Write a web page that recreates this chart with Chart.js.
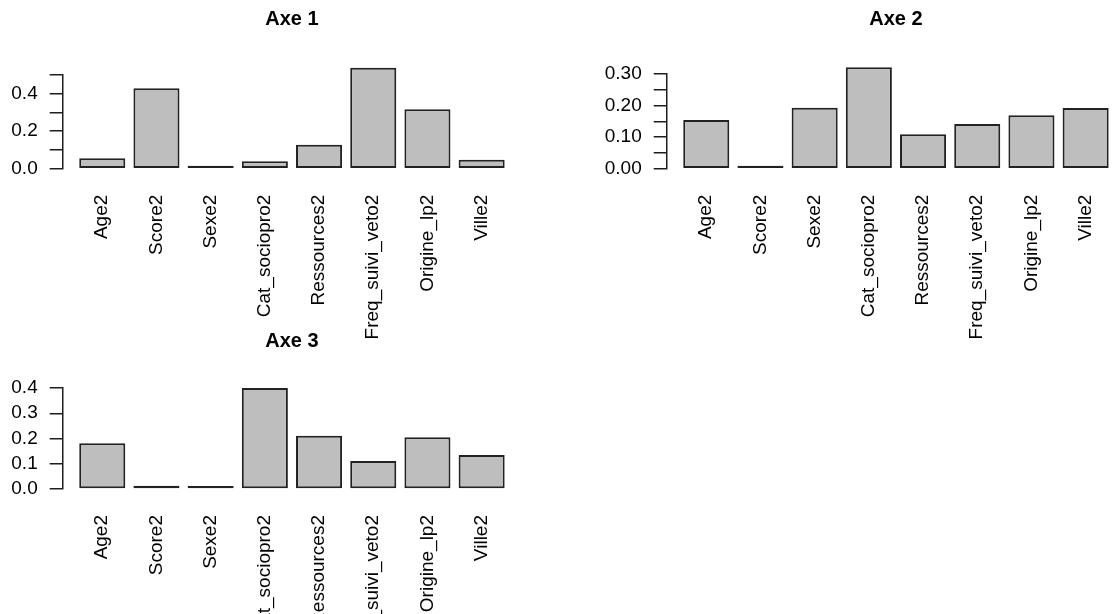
<!DOCTYPE html>
<html>
<head>
<meta charset="utf-8">
<script src="https://cdn.jsdelivr.net/npm/chart.js@4/dist/chart.umd.min.js"></script>
<style>
  html, body { margin: 0; padding: 0; background: #ffffff; width: 1112px; height: 614px; overflow: hidden; }
  canvas { position: absolute; }
  #c1 { left: 0px; top: 0px; }
  #c2 { left: 604.3px; top: 0px; }
  #c3 { left: 0px; top: 320px; }
</style>
</head>
<body>
<canvas id="c1" width="560" height="340"></canvas>
<canvas id="c2" width="560" height="340"></canvas>
<canvas id="c3" width="560" height="294"></canvas>
<script>
// ---- data ----
const categories = ['Age2', 'Score2', 'Sexe2', 'Cat_sociopro2', 'Ressources2', 'Freq_suivi_veto2', 'Origine_lp2', 'Ville2'];
const titles = ['Axe 1', 'Axe 2', 'Axe 3'];

const axe1Values = [0.055, 0.428, 0.005, 0.039, 0.128, 0.537, 0.316, 0.048];
const axe2Values = [0.154, 0.003, 0.193, 0.321, 0.109, 0.142, 0.169, 0.192];
const axe3Values = [0.181, 0.013, 0.004, 0.400, 0.211, 0.111, 0.205, 0.135];

const axe1Ticks = [0, 0.1, 0.2, 0.3, 0.4, 0.5];
const axe1TickLabels = ['0.0', '', '0.2', '', '0.4', ''];
const axe2Ticks = [0, 0.05, 0.10, 0.15, 0.20, 0.25, 0.30];
const axe2TickLabels = ['0.00', '', '0.10', '', '0.20', '', '0.30'];
const axe3Ticks = [0, 0.1, 0.2, 0.3, 0.4];
const axe3TickLabels = ['0.0', '0.1', '0.2', '0.3', '0.4'];

// ---- styling ----
Chart.defaults.font.family = "'Liberation Sans', Arial, sans-serif";
Chart.defaults.color = '#000000';

const AXIS_COLOR = '#1e1e1e';

function makePanel(id, title, values, yTicks, yLabels, titlePad, xAxisHeight) {
  const ctx = document.getElementById(id);
  return new Chart(ctx, {
    type: 'bar',
    data: {
      datasets: [{
        data: values.map((v, i) => ({ x: i, y: v })),
        backgroundColor: '#bebebe',
        borderColor: '#222222',
        borderWidth: 2,
        borderSkipped: false,
        minBarLength: 3,
        categoryPercentage: 0.85,
        barPercentage: 1.0,
        clip: false
      }]
    },
    options: {
      responsive: false,
      animation: false,
      devicePixelRatio: 1,
      layout: { padding: { left: 0, right: 38.8, top: 0, bottom: 0 } },
      plugins: {
        legend: { display: false },
        tooltip: { enabled: false },
        title: {
          display: true,
          text: title,
          fullSize: false,
          color: '#000000',
          font: { size: 20, weight: 'bold', lineHeight: 1.2 },
          padding: titlePad
        }
      },
      scales: {
        x: {
          type: 'linear',
          min: -0.73,
          max: 7.73,
          offset: false,
          grid: { display: false },
          border: { display: false },
          afterBuildTicks: s => { s.ticks = categories.map((c, i) => ({ value: i })); },
          afterFit: s => { s.height = xAxisHeight; s.paddingLeft = 0; s.paddingRight = 0; },
          ticks: {
            autoSkip: false,
            minRotation: 90,
            maxRotation: 90,
            padding: 18,
            color: '#000000',
            font: { size: 19 },
            callback: (v) => categories[Math.round(v)]
          }
        },
        y: {
          type: 'linear',
          min: yTicks[0],
          max: yTicks[yTicks.length - 1],
          afterBuildTicks: s => { s.ticks = yTicks.map(v => ({ value: v })); },
          afterFit: s => { s.width = 62.7; s.paddingTop = 0; s.paddingBottom = 0; },
          border: { display: true, color: AXIS_COLOR, width: 1.5 },
          grid: {
            display: true,
            drawOnChartArea: false,
            drawTicks: true,
            tickLength: 13,
            color: AXIS_COLOR,
            lineWidth: 1.5
          },
          ticks: {
            autoSkip: false,
            padding: 12,
            color: '#000000',
            font: { size: 19 },
            callback: (v, i) => yLabels[i]
          }
        }
      }
    }
  });
}

makePanel('c1', titles[0], axe1Values, axe1Ticks, axe1TickLabels, { top: 7.8, bottom: 42.9 }, 171.3);
makePanel('c2', titles[1], axe2Values, axe2Ticks, axe2TickLabels, { top: 7.8, bottom: 42.2 }, 171.3);
makePanel('c3', titles[2], axe3Values, axe3Ticks, axe3TickLabels, { top: 9.5, bottom: 34.5 }, 125);
</script>
</body>
</html>
